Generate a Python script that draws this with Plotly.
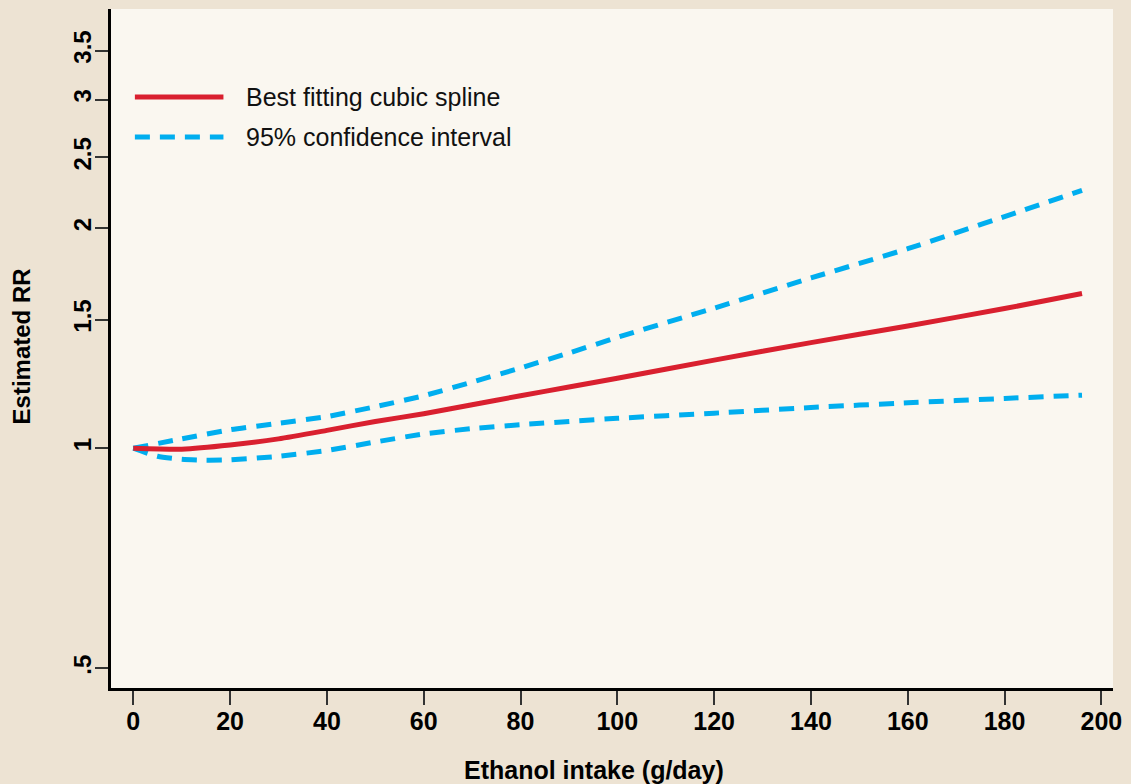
import plotly.graph_objects as go

# Data
x_fit = [0, 10, 20, 30, 40, 50, 60, 70, 80, 90, 100, 120, 140, 160, 180, 196]
rr_fit = [1.0, 0.997, 1.01, 1.03, 1.058, 1.088, 1.115, 1.147, 1.18, 1.213, 1.247, 1.32, 1.395, 1.47, 1.553, 1.628]

x_upper = [0, 10, 20, 30, 40, 50, 60, 70, 80, 90, 100, 120, 140, 160, 180, 196]
rr_upper = [1.0, 1.03, 1.06, 1.082, 1.105, 1.14, 1.18, 1.232, 1.288, 1.35, 1.418, 1.555, 1.71, 1.875, 2.075, 2.254]

x_lower = [0, 5, 10, 15, 20, 30, 40, 50, 60, 70, 80, 100, 120, 140, 160, 180, 196]
rr_lower = [1.0, 0.975, 0.966, 0.963, 0.964, 0.975, 0.993, 1.02, 1.046, 1.064, 1.077, 1.099, 1.117, 1.137, 1.154, 1.17, 1.182]

x_ticks = [0, 20, 40, 60, 80, 100, 120, 140, 160, 180, 200]
y_tickvals = [0.5, 1, 1.5, 2, 2.5, 3, 3.5]
y_ticktext = [".5", "1", "1.5", "2", "2.5", "3", "3.5"]

legend_labels = ["Best fitting cubic spline", "95% confidence interval"]

RED = "#D9202F"
BLUE = "#00AEEF"
DASH = "15px,10px"
FONT = "Liberation Sans, Arial, sans-serif"
PAPER = "#EDE3D3"

fig = go.Figure()
fig.add_trace(go.Scatter(x=x_upper, y=rr_upper, mode="lines", line=dict(color=BLUE, width=5, dash=DASH, shape="spline", smoothing=0.6), showlegend=False, hoverinfo="skip"))
fig.add_trace(go.Scatter(x=x_lower, y=rr_lower, mode="lines", line=dict(color=BLUE, width=5, dash=DASH, shape="spline", smoothing=0.6), showlegend=False, hoverinfo="skip"))
fig.add_trace(go.Scatter(x=x_fit, y=rr_fit, mode="lines", line=dict(color=RED, width=5, shape="spline", smoothing=0.6), showlegend=False))

# Custom legend (sample lines + labels)
W, H = 1131, 784
ml, mr, mt, mb = 111, 13, 9, 96
pw, ph = W - ml - mr, H - mt - mb

def px2paper(xp, yp):
    return (xp - ml) / pw, 1 - (yp - mt) / ph

for i, (lab, col, dash) in enumerate(zip(legend_labels, [RED, BLUE], ["solid", DASH])):
    yp = 97 + 40 * i
    x0, y0 = px2paper(135, yp)
    x1, _ = px2paper(224, yp)
    fig.add_shape(type="line", xref="paper", yref="paper", x0=x0, x1=x1, y0=y0, y1=y0,
                  line=dict(color=col, width=5, dash=dash))
    xt, _ = px2paper(245, yp)
    fig.add_annotation(xref="paper", yref="paper", x=xt, y=y0, text=lab, showarrow=False,
                       xanchor="left", yanchor="middle", font=dict(family=FONT, size=25, color="#111"))

# Axis titles
tx, ty = px2paper(596, 770)
fig.add_annotation(xref="paper", yref="paper", x=tx, y=ty, text="<b>Ethanol intake (g/day)</b>", showarrow=False,
                   xanchor="center", yanchor="middle", font=dict(family=FONT, size=25, color="#000"))
tx, ty = px2paper(21, 346)
fig.add_annotation(xref="paper", yref="paper", x=tx, y=ty, text="<b>Estimated RR</b>", showarrow=False, textangle=-90,
                   xanchor="center", yanchor="middle", font=dict(family=FONT, size=24, color="#000"))

fig.update_layout(
    width=W, height=H,
    margin=dict(l=ml, r=mr, t=mt, b=mb),
    paper_bgcolor=PAPER,
    plot_bgcolor="#FAF7F0",
    showlegend=False,
    font=dict(family=FONT, color="#000"),
)
fig.update_xaxes(range=[-4.6, 202.4], tickvals=x_ticks, ticks="outside", ticklen=14, tickwidth=1.5, tickcolor="#333",
                 showline=True, linecolor="#000", linewidth=2.5, showgrid=False, zeroline=False,
                 ticklabelstandoff=-5,
                 tickfont=dict(family=FONT, size=25, color="#000", weight="bold"))
fig.update_yaxes(type="log", range=[-0.328, 0.601], tickvals=y_tickvals, ticktext=y_ticktext, tickangle=-90,
                 ticks="outside", ticklen=13, tickwidth=1.5, tickcolor="#333",
                 showline=True, linecolor="#000", linewidth=2.5, showgrid=False, zeroline=False,
                 ticklabelstandoff=-5,
                 tickfont=dict(family=FONT, size=24, color="#000", weight="bold"))

fig.write_html("out.html", config={"displayModeBar": False},
               post_script="document.body.style.margin='0';document.body.style.background='%s';document.body.style.overflow='hidden';" % PAPER)
